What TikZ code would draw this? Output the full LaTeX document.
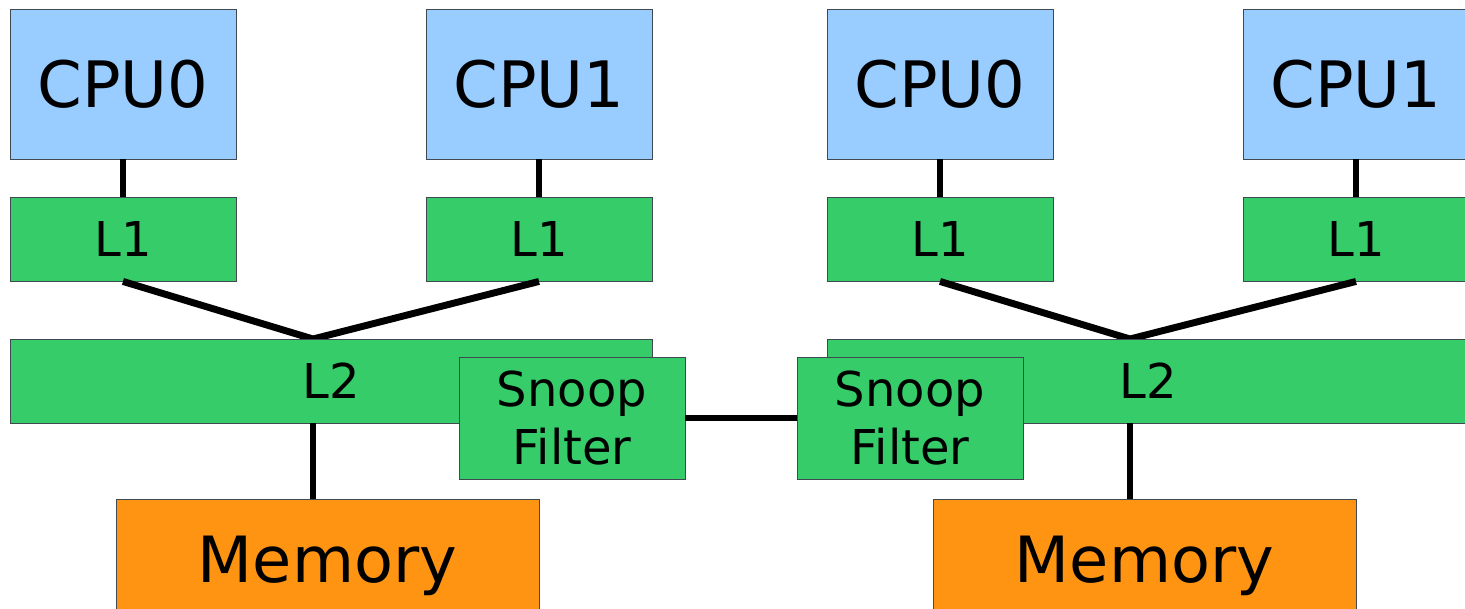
\documentclass[tikz,border=0pt]{standalone}
\usepackage{fontspec}
\setmainfont{DejaVu Sans}
\definecolor{cpublue}{HTML}{99CCFF}
\definecolor{cachegreen}{HTML}{36CC69}
\definecolor{memorange}{HTML}{FF9412}
\definecolor{edgegray}{HTML}{404850}
\begin{document}
\begin{tikzpicture}[x=0.75pt,y=-0.75pt,
  box/.style={draw=edgegray,line width=0.7pt,rectangle,inner sep=0pt,align=center},
  cpubox/.style={box,fill=cpublue,minimum width=169.5pt,minimum height=112.5pt,font=\fontsize{48}{55}\selectfont},
  l1box/.style={box,fill=cachegreen,minimum width=169.5pt,minimum height=63pt,font=\fontsize{36}{40}\selectfont},
  l2box/.style={box,fill=cachegreen,minimum width=481.5pt,minimum height=63pt,font=\fontsize{36}{40}\selectfont},
  sfbox/.style={box,fill=cachegreen,minimum width=169.5pt,minimum height=91.5pt,font=\fontsize{36}{43}\selectfont},
  membox/.style={box,fill=memorange,minimum width=317.25pt,minimum height=100pt,font=\fontsize{47.8}{55}\selectfont},
  wire/.style={line width=5.2pt}]
\useasboundingbox (0,0) rectangle (1465,609);
\clip (0,0) rectangle (1465,609);
\coordinate (j1) at (313,339);
\coordinate (j2) at (1130,339);
\node[cpubox] (cpu0a) at (123,84) {CPU0};
\node[cpubox] (cpu1a) at (539,84) {CPU1};
\node[l1box] (l1a) at (123,239) {L1};
\node[l1box] (l1b) at (539,239) {L1};
\node[cpubox] (cpu0b) at (940,84) {CPU0};
\node[cpubox] (cpu1b) at (1356,84) {CPU1};
\node[l1box] (l1c) at (940,239) {L1};
\node[l1box] (l1d) at (1356,239) {L1};
\draw[wire] (cpu0a.south) -- (l1a.north);
\draw[wire] (cpu1a.south) -- (l1b.north);
\draw[wire] (cpu0b.south) -- (l1c.north);
\draw[wire] (cpu1b.south) -- (l1d.north);
\draw[wire] (l1a.south) -- (j1) -- (l1b.south);
\draw[wire] (l1c.south) -- (j2) -- (l1d.south);
\node[l2box] (l2a) at (331,381) {L2};
\node[l2box] (l2b) at (1148,381) {L2};
\node[membox] (mema) at (327.5,566) {Memory};
\node[membox] (memb) at (1144.5,566) {Memory};
\draw[wire] (l2a.south -| j1) -- (mema.north -| j1);
\draw[wire] (l2b.south -| j2) -- (memb.north -| j2);
\node[sfbox] (sfa) at (572,418) {Snoop\\Filter};
\node[sfbox] (sfb) at (910,418) {Snoop\\Filter};
\draw[wire] (sfa.east) -- (sfb.west);
\end{tikzpicture}
\end{document}
